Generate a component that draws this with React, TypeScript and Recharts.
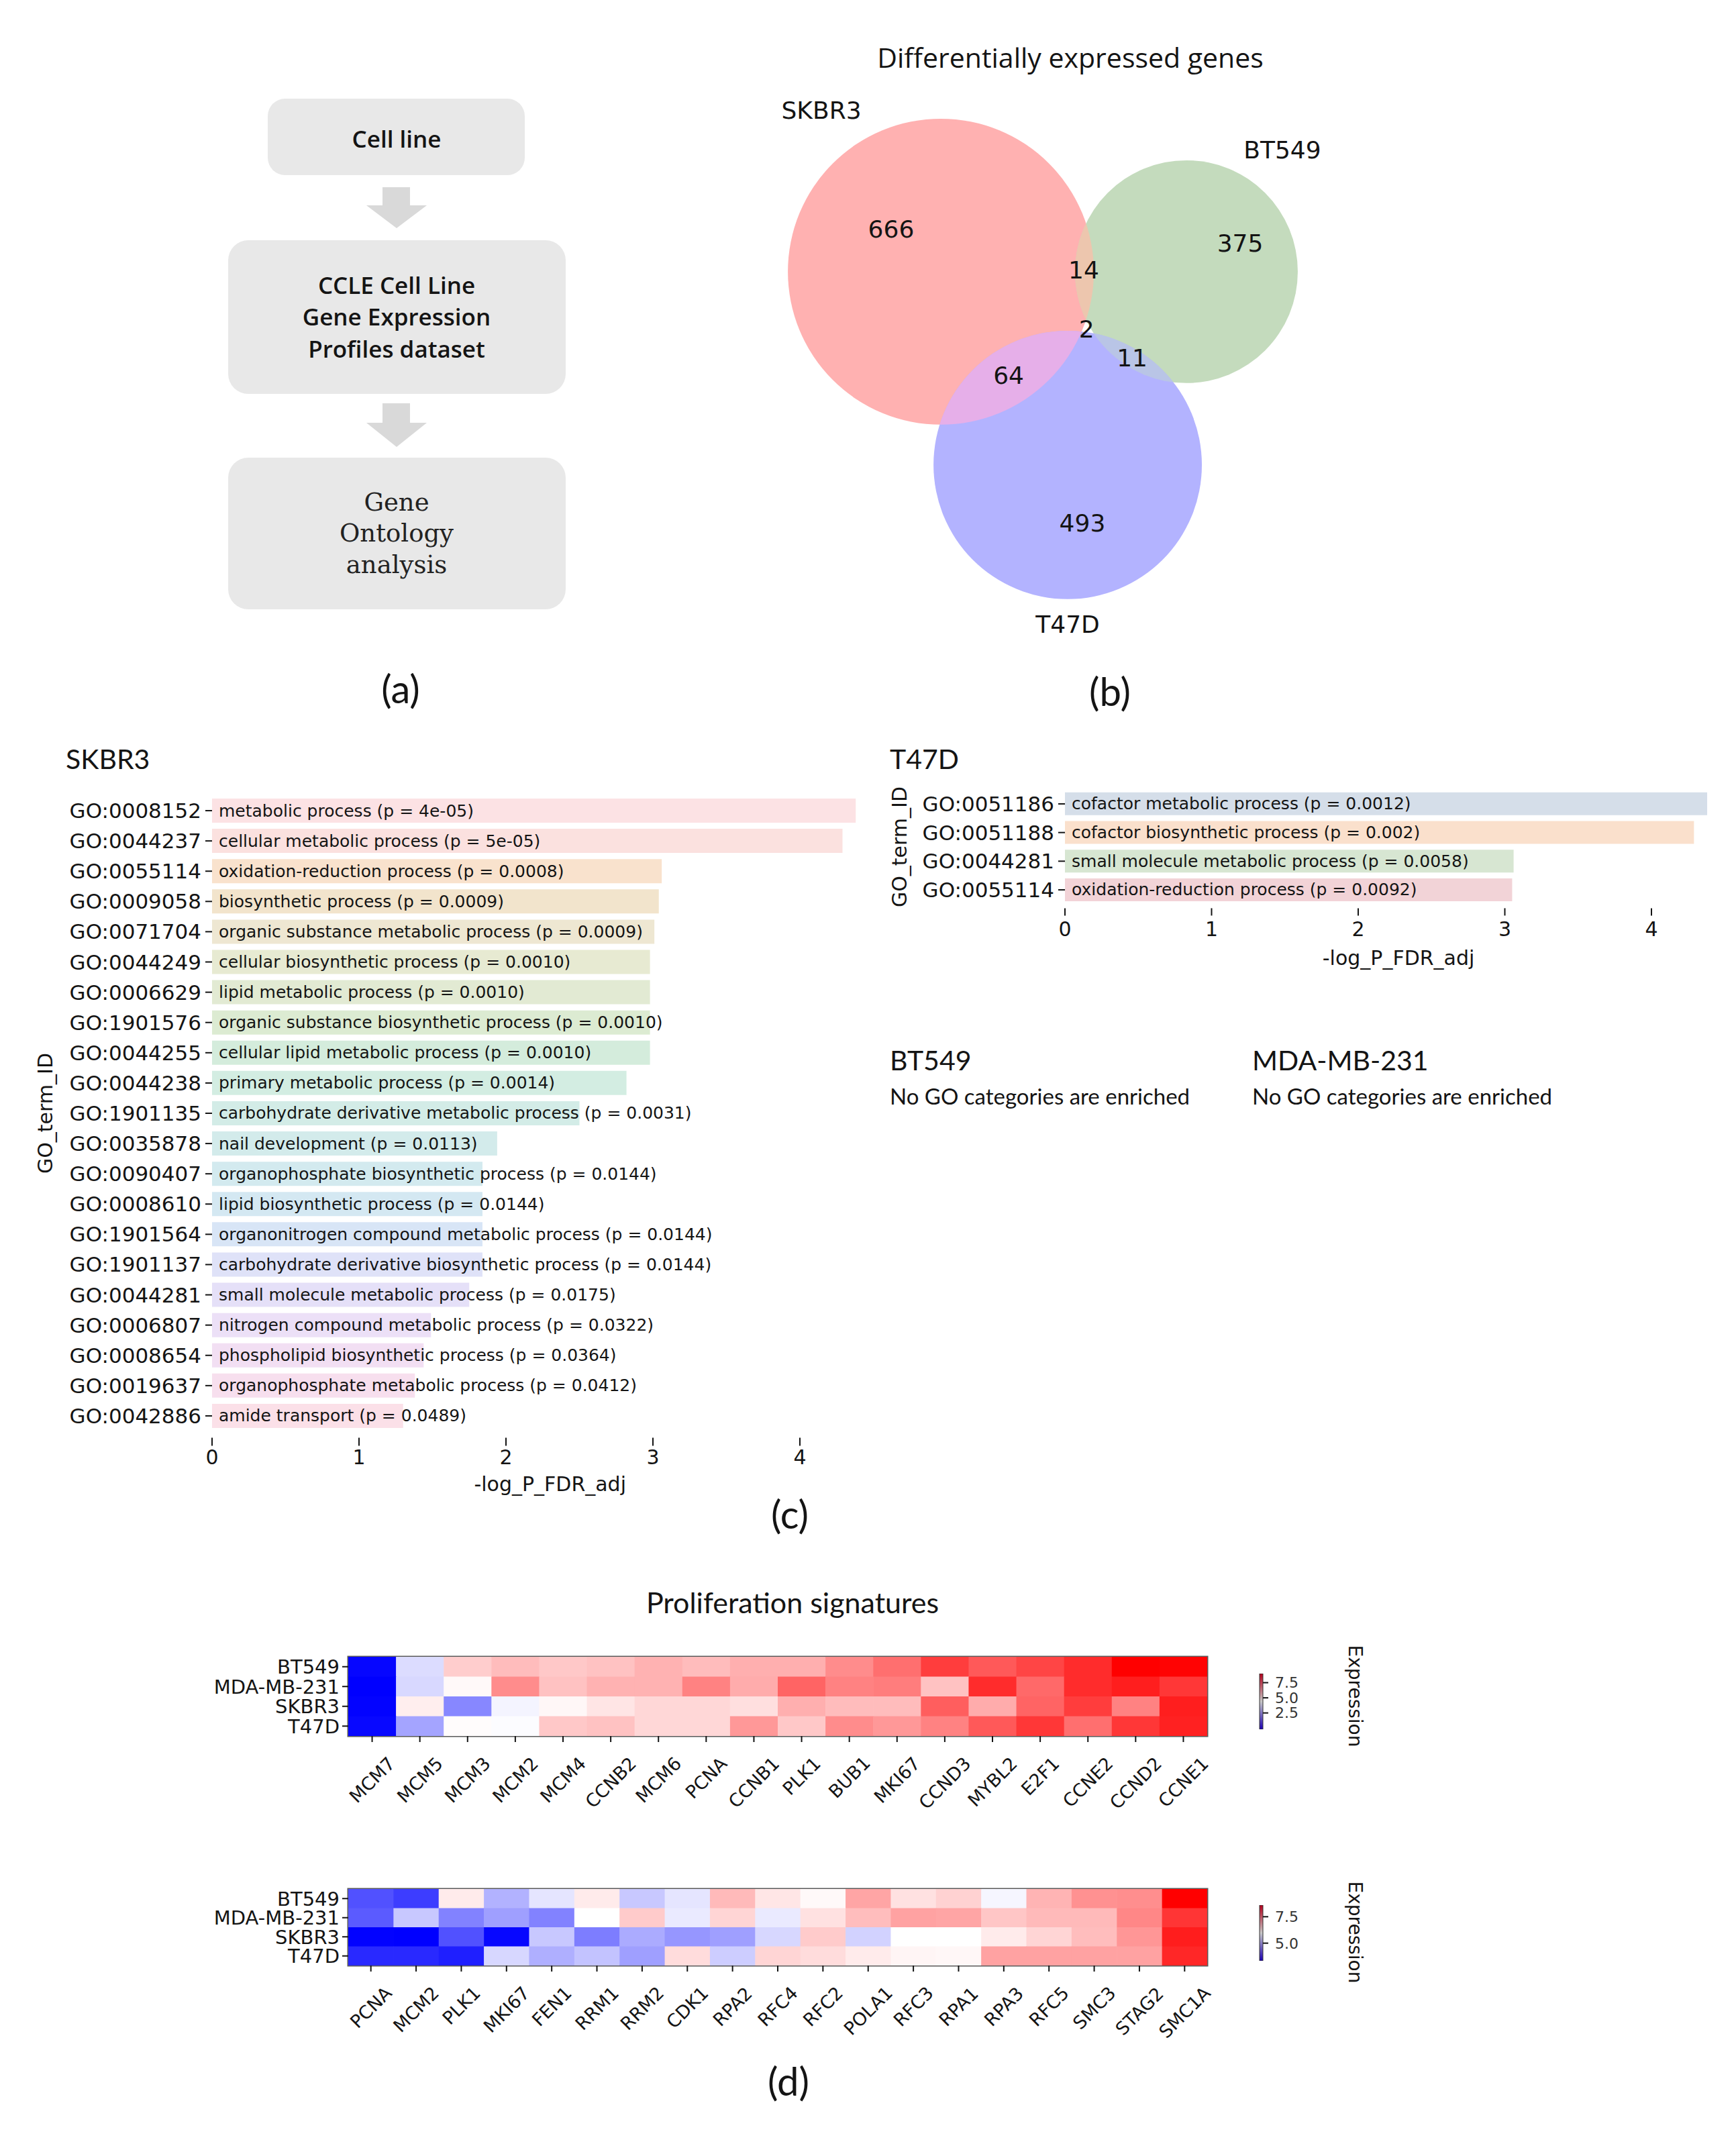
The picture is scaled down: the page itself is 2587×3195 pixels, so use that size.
import React from "react";
import {
  BarChart,
  Bar,
  XAxis,
  YAxis,
  Cell,
  LabelList,
  Label,
  ScatterChart,
  Scatter,
  ReferenceArea,
} from "recharts";

const PAGE_W = 2587;
const PAGE_H = 3195;

const MPL_FONT = "'DejaVu Sans', sans-serif";
const TITLE_FONT = "Lato, 'Open Sans', sans-serif";
const BOX_FONT = "'Open Sans', sans-serif";
const SERIF_FONT = "'DejaVu Serif', serif";
const INK = "#141414";

// ---------- (a) workflow ----------
const flowSans = ["Cell line"];
const flowDataset = ["CCLE Cell Line", "Gene Expression", "Profiles dataset"];
const flowAnalysis = ["Gene", "Ontology", "analysis"];

// ---------- (b) venn ----------
const vennSets = ["SKBR3", "BT549", "T47D"];
const vennCx = [0, 1.605, 0.829];
const vennCy = [0, 0, -1.263];
const vennR = [1, 0.728, 0.877];
const vennFill = ["#ffb1b1", "#c4dbbd", "#b3b3ff"];
const vennSetLabelX = [-0.781, 2.232, 0.829];
const vennSetLabelY = [1.053, 0.794, -2.307];

// overlap regions: circle of base set, clipped by the others
const vennRegionBase = [1, 2, 2, 2];
const vennRegionClip = [[0], [0], [1], [0, 1]];
const vennRegionFill = ["#edc6ae", "#e6afe9", "#b9c5e6", "#d6b9dc"];

const vennCounts = ["666", "375", "493", "14", "64", "11", "2"];
const vennCountX = [-0.325, 1.956, 0.925, 0.934, 0.443, 1.25, 0.952];
const vennCountY = [0.276, 0.184, -1.645, 0.009, -0.68, -0.566, -0.377];

// ---------- (c) GO enrichment ----------
const skbr3Ids = [
  "GO:0008152", "GO:0044237", "GO:0055114", "GO:0009058", "GO:0071704",
  "GO:0044249", "GO:0006629", "GO:1901576", "GO:0044255", "GO:0044238",
  "GO:1901135", "GO:0035878", "GO:0090407", "GO:0008610", "GO:1901564",
  "GO:1901137", "GO:0044281", "GO:0006807", "GO:0008654", "GO:0019637",
  "GO:0042886",
];
const skbr3Terms = [
  "metabolic process (p = 4e-05)",
  "cellular metabolic process (p = 5e-05)",
  "oxidation-reduction process (p = 0.0008)",
  "biosynthetic process (p = 0.0009)",
  "organic substance metabolic process (p = 0.0009)",
  "cellular biosynthetic process (p = 0.0010)",
  "lipid metabolic process (p = 0.0010)",
  "organic substance biosynthetic process (p = 0.0010)",
  "cellular lipid metabolic process (p = 0.0010)",
  "primary metabolic process (p = 0.0014)",
  "carbohydrate derivative metabolic process (p = 0.0031)",
  "nail development (p = 0.0113)",
  "organophosphate biosynthetic process (p = 0.0144)",
  "lipid biosynthetic process (p = 0.0144)",
  "organonitrogen compound metabolic process (p = 0.0144)",
  "carbohydrate derivative biosynthetic process (p = 0.0144)",
  "small molecule metabolic process (p = 0.0175)",
  "nitrogen compound metabolic process (p = 0.0322)",
  "phospholipid biosynthetic process (p = 0.0364)",
  "organophosphate metabolic process (p = 0.0412)",
  "amide transport (p = 0.0489)",
];
const skbr3Values = [
  4.38, 4.29, 3.06, 3.04, 3.01, 2.98, 2.98, 2.98, 2.98, 2.82, 2.5, 1.94, 1.84,
  1.84, 1.84, 1.84, 1.75, 1.49, 1.44, 1.38, 1.3,
];
const skbr3Colors = [
  "#fce2e4", "#fbe1df", "#f9e2cd", "#f2e4cc", "#eee7d2", "#e7ead2", "#e2ead3",
  "#dcebd2", "#d4ecdc", "#d3ede2", "#d3ece7", "#d3ebeb", "#d3eaef", "#d4e8f2",
  "#d8e5f6", "#dfe2f8", "#e5e0f8", "#ece0f7", "#f2dff3", "#f7dfee", "#fbe0e8",
];

const t47dIds = ["GO:0051186", "GO:0051188", "GO:0044281", "GO:0055114"];
const t47dTerms = [
  "cofactor metabolic process (p = 0.0012)",
  "cofactor biosynthetic process (p = 0.002)",
  "small molecule metabolic process (p = 0.0058)",
  "oxidation-reduction process (p = 0.0092)",
];
const t47dValues = [4.38, 4.29, 3.06, 3.05];
const t47dColors = ["#d5dee9", "#fae0cc", "#d7e6d2", "#f2d3d7"];

const goTicks = [0, 1, 2, 3, 4];

// ---------- (d) heatmaps ----------
const cellLines = ["BT549", "MDA-MB-231", "SKBR3", "T47D"];

const prolifGenes = [
  "MCM7", "MCM5", "MCM3", "MCM2", "MCM4", "CCNB2", "MCM6", "PCNA", "CCNB1",
  "PLK1", "BUB1", "MKI67", "CCND3", "MYBL2", "E2F1", "CCNE2", "CCND2", "CCNE1",
];
const prolifBT549 = [-0.1, 3.76, 5.3, 5.6, 5.4, 5.5, 5.78, 5.6, 5.84, 5.84, 6.47, 7.0, 7.9, 7.4, 7.75, 8.2, 9.0, 8.95];
const prolifMDA = [-0.2, 3.7, 4.5, 6.47, 5.5, 5.78, 5.78, 6.65, 5.9, 7.2, 6.65, 6.75, 5.5, 8.2, 7.1, 8.2, 8.45, 8.0];
const prolifSKBR3 = [-0.15, 4.7, 2.24, 4.2, 4.55, 4.86, 5.13, 5.13, 4.97, 5.84, 5.6, 5.6, 7.3, 5.9, 7.2, 7.9, 6.65, 8.45];
const prolifT47D = [-0.05, 2.75, 4.45, 4.35, 5.4, 5.5, 5.13, 5.13, 6.25, 5.4, 6.47, 6.25, 6.65, 7.4, 8.0, 7.0, 8.0, 8.4];
const prolifTicks = [2.5, 5.0, 7.5];

const replGenes = [
  "PCNA", "MCM2", "PLK1", "MKI67", "FEN1", "RRM1", "RRM2", "CDK1", "RPA2",
  "RFC4", "RFC2", "POLA1", "RFC3", "RPA1", "RPA3", "RFC5", "SMC3", "STAG2", "SMC1A",
];
const replBT549 = [4.17, 3.96, 6.17, 5.17, 5.7, 6.17, 5.4, 5.7, 6.68, 6.22, 6.03, 6.89, 6.28, 6.43, 5.87, 6.74, 7.1, 7.13, 8.6];
const replMDA = [4.27, 5.4, 4.67, 4.97, 4.67, 5.97, 6.5, 5.75, 6.4, 5.75, 6.28, 6.65, 6.93, 6.89, 6.55, 6.68, 6.68, 7.2, 8.05];
const replSKBR3 = [3.35, 3.33, 4.17, 3.4, 5.4, 4.62, 5.1, 4.88, 4.97, 5.55, 6.5, 5.5, 5.97, 5.97, 6.17, 6.4, 6.65, 7.05, 8.3];
const replT47D = [3.75, 3.75, 3.65, 5.55, 5.14, 5.34, 4.97, 6.33, 5.45, 6.4, 6.33, 6.17, 6.07, 6.05, 6.93, 6.93, 6.93, 6.93, 8.2];
const replTicks = [5.0, 7.5];

// ---------- helpers ----------
function bwr(v: number, vmin: number, vmax: number): string {
  const t = Math.max(0, Math.min(1, (v - vmin) / (vmax - vmin)));
  if (t < 0.5) {
    const c = Math.round(255 * 2 * t);
    return `rgb(${c},${c},255)`;
  }
  const c = Math.round(255 * 2 * (1 - t));
  return `rgb(255,${c},${c})`;
}

const GLYPH_W: Record<string, number> = {
  M: 0.863, C: 0.698, N: 0.748, B: 0.686, P: 0.603, A: 0.684, K: 0.656,
  L: 0.557, I: 0.295, D: 0.77, E: 0.632, F: 0.575, R: 0.695, O: 0.787,
  S: 0.635, T: 0.611, G: 0.775, Y: 0.611,
};
const textWidth = (s: string, fs: number) =>
  s.split("").reduce((w, ch) => w + (GLYPH_W[ch] ?? 0.636), 0) * fs;

// ---------- Venn ----------
const VENN_W = 950;
const VENN_H = 900;
const VENN_X: [number, number] = [-1.325, 2.842];
const VENN_Y: [number, number] = [-2.61, 1.337];
const VENN_PX = VENN_W / (VENN_X[1] - VENN_X[0]);

const vennSetData = vennSets.map((name, i) => ({
  name, x: vennCx[i], y: vennCy[i], r: vennR[i], fill: vennFill[i],
}));
const vennRegionData = vennRegionBase.map((b, i) => ({
  x: vennCx[b], y: vennCy[b], r: vennR[b], fill: vennRegionFill[i],
  clips: vennRegionClip[i].map((k) => vennSets[k]),
}));
const vennTextData = [
  ...vennCounts.map((label, i) => ({ label, x: vennCountX[i], y: vennCountY[i] })),
  ...vennSets.map((label, i) => ({ label, x: vennSetLabelX[i], y: vennSetLabelY[i] })),
];

const VennSetShape = (p: any) => {
  const r = p.payload.r * VENN_PX;
  return (
    <g>
      <defs>
        <clipPath id={`venn-clip-${p.payload.name}`}>
          <circle cx={p.cx} cy={p.cy} r={r} />
        </clipPath>
      </defs>
      <circle cx={p.cx} cy={p.cy} r={r} fill={p.payload.fill} />
    </g>
  );
};

const VennRegionShape = (p: any) => {
  const r = p.payload.r * VENN_PX;
  let node = <circle cx={p.cx} cy={p.cy} r={r} fill={p.payload.fill} />;
  for (const c of p.payload.clips) {
    node = <g clipPath={`url(#venn-clip-${c})`}>{node}</g>;
  }
  return node;
};

const VennTextShape = (p: any) => (
  <text x={p.cx} y={p.cy} textAnchor="middle" dominantBaseline="central"
    fontSize={36} fontFamily={MPL_FONT} fill={INK}>
    {p.payload.label}
  </text>
);

function VennChart() {
  return (
    <ScatterChart width={VENN_W} height={VENN_H} margin={{ top: 0, right: 0, bottom: 0, left: 0 }}>
      <XAxis type="number" dataKey="x" domain={VENN_X} hide allowDataOverflow />
      <YAxis type="number" dataKey="y" domain={VENN_Y} hide allowDataOverflow />
      <Scatter data={vennSetData} shape={VennSetShape} isAnimationActive={false} />
      <Scatter data={vennRegionData} shape={VennRegionShape} isAnimationActive={false} />
      <Scatter data={vennTextData} shape={VennTextShape} isAnimationActive={false} />
    </ScatterChart>
  );
}

// ---------- GO bars ----------
interface GoBarsProps {
  ids: string[];
  terms: string[];
  values: number[];
  colors: string[];
  width: number;
  height: number;
  marginTop: number;
  plotHeight: number;
  yAxisWidth: number;
  xMax: number;
  pxPerUnit: number;
  tickFrom: number;
  tickTo: number;
  tickTextDy: number;
  xLabelDy: number;
  yLabelX: number;
}

function GoBars(props: GoBarsProps) {
  const { ids, terms, values, colors } = props;
  const data = ids.map((id, i) => ({ id, term: terms[i], value: values[i], color: colors[i] }));
  const plotW = props.xMax * props.pxPerUnit;
  const marginRight = props.width - props.yAxisWidth - plotW;
  const xAxisHeight = props.height - props.marginTop - props.plotHeight;

  const renderTick = (p: any) => (
    <g>
      <line x1={p.x} x2={p.x} y1={p.y + props.tickFrom} y2={p.y + props.tickTo} stroke={INK} strokeWidth={2} />
      <text x={p.x} y={p.y + props.tickTextDy} textAnchor="middle" fontSize={30}
        fontFamily={MPL_FONT} fill={INK}>
        {p.payload.value}
      </text>
    </g>
  );

  const renderTerm = (p: any) => (
    <text x={Number(p.x) + 10} y={Number(p.y) + Number(p.height) / 2} dominantBaseline="central"
      fontSize={25} fontFamily={MPL_FONT} fill={INK}>
      {p.value}
    </text>
  );

  return (
    <BarChart layout="vertical" width={props.width} height={props.height} data={data}
      margin={{ top: props.marginTop, right: marginRight, bottom: 0, left: 0 }}
      barCategoryGap="10%">
      <XAxis type="number" domain={[0, props.xMax]} ticks={goTicks} axisLine={false}
        tickLine={false} tickSize={0} tickMargin={0} height={xAxisHeight} tick={renderTick}
        allowDataOverflow>
        <Label content={(p: any) => (
          <text x={p.viewBox.x + p.viewBox.width / 2} y={p.viewBox.y + props.xLabelDy}
            textAnchor="middle" fontSize={30} fontFamily={MPL_FONT} fill={INK}>
            -log_P_FDR_adj
          </text>
        )} />
      </XAxis>
      <YAxis type="category" dataKey="id" width={props.yAxisWidth} axisLine={false}
        tickSize={10} tickMargin={6} interval={0}
        tickLine={{ stroke: INK, strokeWidth: 2 }}
        tick={{ fill: INK, fontSize: 31, fontFamily: MPL_FONT }}>
        <Label content={(p: any) => {
          const x = p.viewBox.x + props.yLabelX;
          const y = p.viewBox.y + p.viewBox.height / 2;
          return (
            <text x={x} y={y} transform={`rotate(-90 ${x} ${y})`} textAnchor="middle"
              dominantBaseline="central" fontSize={30} fontFamily={MPL_FONT} fill={INK}>
              GO_term_ID
            </text>
          );
        }} />
      </YAxis>
      <Bar dataKey="value" isAnimationActive={false}>
        {data.map((d, i) => (
          <Cell key={i} fill={d.color} />
        ))}
        <LabelList dataKey="term" content={renderTerm} />
      </Bar>
    </BarChart>
  );
}

// ---------- heatmap ----------
interface HeatmapProps {
  genes: string[];
  rows: number[][];
  width: number;
  height: number;
  marginTop: number;
  plotHeight: number;
  yAxisWidth: number;
  plotWidth: number;
}

const HEAT_FS = 27;

function Heatmap(props: HeatmapProps) {
  const { genes, rows } = props;
  const all = rows.flat();
  const vmin = Math.min(...all);
  const vmax = Math.max(...all);
  const data = rows.flatMap((vals, r) => vals.map((v, c) => ({ x: c + 0.5, y: r + 0.5, v })));
  const cw = props.plotWidth / genes.length;
  const ch = props.plotHeight / rows.length;
  const marginRight = props.width - props.yAxisWidth - props.plotWidth;
  const xAxisHeight = props.height - props.marginTop - props.plotHeight;

  const cellShape = (p: any) => (
    <rect x={p.cx - cw / 2} y={p.cy - ch / 2} width={cw + 0.6} height={ch + 0.6}
      fill={bwr(p.payload.v, vmin, vmax)} />
  );

  const renderXTick = (p: any) => {
    const label = genes[Math.floor(p.payload.value)];
    const L = textWidth(label, HEAT_FS);
    const half = (0.707 * (L + 0.75 * HEAT_FS)) / 2;
    const axisY = p.y - 9;
    const cy = axisY + 29 + half;
    return (
      <text x={p.x} y={cy} transform={`rotate(-45 ${p.x} ${cy})`} textAnchor="middle"
        dominantBaseline="central" fontSize={HEAT_FS} fontFamily={MPL_FONT} fill={INK}>
        {label}
      </text>
    );
  };

  return (
    <ScatterChart width={props.width} height={props.height}
      margin={{ top: props.marginTop, right: marginRight, bottom: 0, left: 0 }}>
      <XAxis type="number" dataKey="x" domain={[0, genes.length]}
        ticks={genes.map((_, i) => i + 0.5)} interval={0} axisLine={false}
        tickSize={9} tickMargin={0} tickLine={{ stroke: INK, strokeWidth: 2 }}
        height={xAxisHeight} tick={renderXTick} allowDataOverflow />
      <YAxis type="number" dataKey="y" domain={[0, rows.length]} reversed
        ticks={cellLines.map((_, i) => i + 0.5)} interval={0} axisLine={false}
        width={props.yAxisWidth} tickSize={9} tickMargin={4}
        tickLine={{ stroke: INK, strokeWidth: 2 }}
        tickFormatter={(v: number) => cellLines[Math.floor(v)]}
        tick={{ fill: INK, fontSize: 29, fontFamily: MPL_FONT }} allowDataOverflow />
      <Scatter data={data} shape={cellShape} isAnimationActive={false} />
      <ReferenceArea x1={0} x2={genes.length} y1={0} y2={rows.length} fill="none"
        stroke="#5a5a5a" strokeWidth={3} ifOverflow="visible" />
    </ScatterChart>
  );
}

function ColorBar({ rows, ticks, id, labelDy }: { rows: number[][]; ticks: number[]; id: string; labelDy: number }) {
  const all = rows.flat();
  const vmin = Math.min(...all);
  const vmax = Math.max(...all);
  const data = [{ name: "cb", span: [vmin, vmax] }];
  return (
    <BarChart width={180} height={203} data={data}
      margin={{ top: 60, right: 0, bottom: 60, left: 17 }} barCategoryGap={0}>
      <defs>
        <linearGradient id={id} x1="0" y1="0" x2="0" y2="1">
          <stop offset="0%" stopColor="#b4001c" />
          <stop offset="50%" stopColor="#c8c8c8" />
          <stop offset="100%" stopColor="#1c00b4" />
        </linearGradient>
      </defs>
      <XAxis dataKey="name" hide />
      <YAxis orientation="right" type="number" domain={[vmin, vmax]} ticks={ticks} width={158}
        axisLine={false} tickSize={8} tickMargin={10} allowDataOverflow interval={0}
        tickFormatter={(v: number) => v.toFixed(1)}
        tickLine={{ stroke: INK, strokeWidth: 2 }}
        tick={{ fill: "#333", fontSize: 22, fontFamily: MPL_FONT }}>
        <Label content={(p: any) => {
          const x = p.viewBox.x + 137;
          const y = p.viewBox.y + p.viewBox.height / 2 + labelDy;
          return (
            <text x={x} y={y} transform={`rotate(90 ${x} ${y})`} textAnchor="middle"
              dominantBaseline="central" fontSize={28} fontFamily={MPL_FONT} fill={INK}>
              Expression
            </text>
          );
        }} />
      </YAxis>
      <Bar dataKey="span" fill={`url(#${id})`} stroke="#333" strokeWidth={1}
        isAnimationActive={false} />
    </BarChart>
  );
}

// ---------- page ----------
const abs = (left: number, top: number): React.CSSProperties => ({ position: "absolute", left, top });

export default function App() {
  return (
    <div style={{ position: "absolute", left: 0, top: 0, width: PAGE_W, height: PAGE_H, background: "#fff", overflow: "hidden" }}>
      <svg width={PAGE_W} height={PAGE_H} style={abs(0, 0)}>
        {/* (a) workflow */}
        <rect x={399} y={147} width={383} height={114} rx={26} fill="#e8e8e8" />
        <rect x={340} y={358} width={503} height={229} rx={30} fill="#e8e8e8" />
        <rect x={340} y={682} width={503} height={226} rx={30} fill="#e8e8e8" />
        <polygon points="570,279 611,279 611,306 636,306 591,340 546,306 570,306" fill="#d9d9d9" />
        <polygon points="570,601 611,601 611,630 636,630 591,666 546,630 570,630" fill="#d9d9d9" />
        {flowSans.map((t, i) => (
          <text key={t} x={591} y={206 + i * 48} textAnchor="middle" dominantBaseline="central"
            fontSize={35} fontWeight={600} fontFamily={BOX_FONT} fill={INK}>{t}</text>
        ))}
        {flowDataset.map((t, i) => (
          <text key={t} x={591} y={424 + i * 47.5} textAnchor="middle" dominantBaseline="central"
            fontSize={35} fontWeight={600} fontFamily={BOX_FONT} fill={INK}>{t}</text>
        ))}
        {flowAnalysis.map((t, i) => (
          <text key={t} x={591} y={748 + i * 46.5} textAnchor="middle" dominantBaseline="central"
            fontSize={37} fontFamily={SERIF_FONT} fill="#222">{t}</text>
        ))}
        <text x={597} y={1025} textAnchor="middle" dominantBaseline="central" fontSize={58}
          fontFamily={TITLE_FONT} fill={INK}>(a)</text>

        {/* (b) */}
        <text x={1595} y={85} textAnchor="middle" dominantBaseline="central" fontSize={41}
          fontFamily={BOX_FONT} fill={INK}>Differentially expressed genes</text>
        <text x={1654} y={1029} textAnchor="middle" dominantBaseline="central" fontSize={58}
          fontFamily={TITLE_FONT} fill={INK}>(b)</text>

        {/* (c) */}
        <text x={98} y={1130} dominantBaseline="central" fontSize={41} fontFamily={TITLE_FONT} fill={INK}>SKBR3</text>
        <text x={1326} y={1130} dominantBaseline="central" fontSize={41} fontFamily={TITLE_FONT} fill={INK}>T47D</text>
        <text x={1326} y={1579} dominantBaseline="central" fontSize={41} fontFamily={TITLE_FONT} fill={INK}>BT549</text>
        <text x={1326} y={1633} dominantBaseline="central" fontSize={33} fontFamily={TITLE_FONT} fill={INK}>No GO categories are enriched</text>
        <text x={1866} y={1579} dominantBaseline="central" fontSize={41} fontFamily={TITLE_FONT} fill={INK}>MDA-MB-231</text>
        <text x={1866} y={1633} dominantBaseline="central" fontSize={33} fontFamily={TITLE_FONT} fill={INK}>No GO categories are enriched</text>
        <text x={1177} y={2255} textAnchor="middle" dominantBaseline="central" fontSize={58}
          fontFamily={TITLE_FONT} fill={INK}>(c)</text>

        {/* (d) */}
        <text x={1181} y={2387} textAnchor="middle" dominantBaseline="central" fontSize={43}
          fontFamily={TITLE_FONT} fill={INK}>Proliferation signatures</text>
        <text x={1175} y={3100} textAnchor="middle" dominantBaseline="central" fontSize={58}
          fontFamily={TITLE_FONT} fill={INK}>(d)</text>
      </svg>

      <div style={abs(1100, 100)}>
        <VennChart />
      </div>

      <div style={abs(0, 1100)}>
        <GoBars ids={skbr3Ids} terms={skbr3Terms} values={skbr3Values} colors={skbr3Colors}
          width={1340} height={1150} marginTop={85.5} plotHeight={947} yAxisWidth={316}
          xMax={4.6} pxPerUnit={219} tickFrom={10} tickTo={22} tickTextDy={49.5}
          xLabelDy={89} yLabelX={67} />
      </div>

      <div style={abs(1300, 1100)}>
        <GoBars ids={t47dIds} terms={t47dTerms} values={t47dValues} colors={t47dColors}
          width={1287} height={400} marginTop={76.6} plotHeight={170.8} yAxisWidth={287}
          xMax={4.55} pxPerUnit={218.5} tickFrom={6} tickTo={17} tickTextDy={47.5}
          xLabelDy={91} yLabelX={40} />
      </div>

      <div style={abs(300, 2440)}>
        <Heatmap genes={prolifGenes} rows={[prolifBT549, prolifMDA, prolifSKBR3, prolifT47D]}
          width={1540} height={300} marginTop={29} plotHeight={118} yAxisWidth={219} plotWidth={1280} />
      </div>
      <div style={abs(1860, 2434)}>
        <ColorBar rows={[prolifBT549, prolifMDA, prolifSKBR3, prolifT47D]} ticks={prolifTicks}
          id="cb-prolif" labelDy={-8} />
      </div>

      <div style={abs(300, 2785)}>
        <Heatmap genes={replGenes} rows={[replBT549, replMDA, replSKBR3, replT47D]}
          width={1540} height={300} marginTop={30} plotHeight={114} yAxisWidth={219} plotWidth={1280} />
      </div>
      <div style={abs(1860, 2779)}>
        <ColorBar rows={[replBT549, replMDA, replSKBR3, replT47D]} ticks={replTicks}
          id="cb-repl" labelDy={-1} />
      </div>
    </div>
  );
}
